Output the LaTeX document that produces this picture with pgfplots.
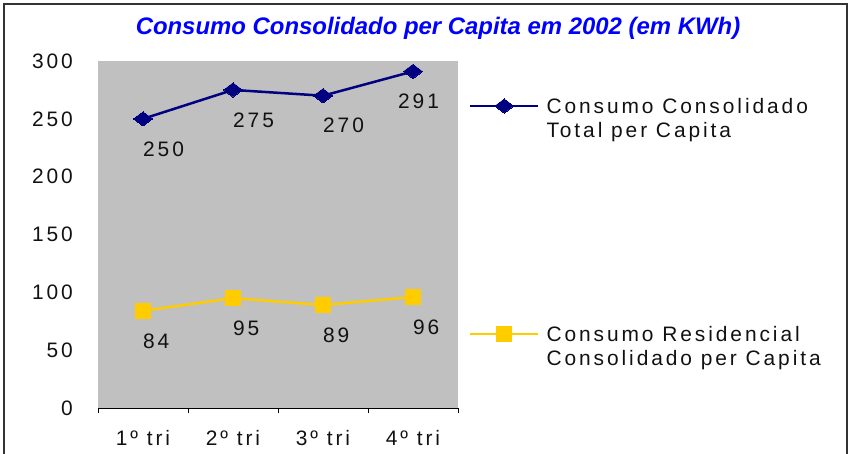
\documentclass[border=0pt]{standalone}
\usepackage{fontspec}
\usepackage{pgfplots}
\usepackage{pgfplotstable}
\pgfplotsset{compat=1.18}
\setmainfont{Liberation Sans}[LetterSpace=14]
\newfontfamily\titlefont{Liberation Sans}
\definecolor{navyc}{HTML}{000080}
\definecolor{goldc}{HTML}{FFCC00}
\definecolor{bgc}{HTML}{C0C0C0}
\definecolor{titlec}{HTML}{0000FF}
\definecolor{txtc}{HTML}{111111}

\pgfplotstableread{
x y
1 250
2 275
3 270
4 291
}\totaldata
\pgfplotstableread{
x y
1 84
2 95
3 89
4 96
}\resdata

\begin{document}
\begin{tikzpicture}
\useasboundingbox (0bp,0bp) rectangle (851bp,-454bp);
\draw[line width=1.8bp, black!80] (4bp,-460bp) -- (4bp,-4bp) -- (847bp,-4bp) -- (847bp,-460bp);
\node[font=\titlefont\fontsize{24}{28}\selectfont\bfseries\itshape, text=titlec] at (438bp,-28bp) {Consumo Consolidado per Capita em 2002 (em KWh)};
\begin{axis}[
  at={(98bp,-408bp)}, anchor=south west,
  scale only axis, width=360bp, height=347bp,
  xmin=0.5, xmax=4.5, ymin=0, ymax=300,
  enlargelimits=false,
  axis x line=bottom, axis y line=left,
  axis line style={-},
  y axis line style={draw=none},
  x axis line style={black, line width=0.8bp},
  axis background/.style={fill=bgc, draw=none},
  ytick={0,50,100,150,200,250,300},
  ytick style={draw=none},
  yticklabel style={anchor=east, inner sep=0pt, xshift=-20bp, text=txtc},
  xtick={0.5,1.5,2.5,3.5,4.5},
  xticklabels={},
  tick align=outside,
  xtick style={black, line width=0.8bp},
  major tick length=5bp,
  extra x ticks={1,2,3,4},
  extra x tick labels={1º tri,2º tri,3º tri,4º tri},
  extra x tick style={major tick length=0pt, xticklabel style={anchor=north, inner sep=0pt, yshift=-22bp, text=txtc}},
  tick label style={font=\fontsize{21}{25}\selectfont},
  /pgf/number format/assume math mode=true,
  every node near coord/.append style={font=\fontsize{21}{25}\selectfont, text=txtc, anchor=west, inner sep=0pt, yshift=-30bp},
  legend style={at={(1.0306,0.897)}, anchor=north west, draw=none, fill=none,
    inner sep=0pt, outer sep=0pt, row sep=210bp, column sep=7bp,
    nodes={inner sep=0pt, text=txtc}, cells={anchor=base west},
    font=\fontsize{21}{24}\selectfont},
  legend image code/.code={\draw[mark repeat=2,mark phase=2] plot coordinates {(0bp,7.5bp) (34bp,7.5bp) (68bp,7.5bp)};},
]
\addplot[navyc, line width=2.5bp, mark=diamond*, mark size=9.5bp, mark options={rotate=90, solid, fill=navyc, draw=navyc, line width=0pt}]
  table[x=x,y=y] {\totaldata};
\addlegendentry{\begin{tabular}[t]{@{}l@{}}Consumo Consolidado\\Total per Capita\end{tabular}}
\addplot[goldc, line width=2.5bp, mark=square*, mark size=7.5bp, mark options={solid, fill=goldc, draw=goldc, line width=0pt}, nodes near coords]
  table[x=x,y=y] {\resdata};
\addlegendentry{\begin{tabular}[t]{@{}l@{}}Consumo Residencial\\Consolidado per Capita\end{tabular}}
\addplot[draw=none, forget plot, nodes near coords] coordinates {(1,250) (2,275) (3,270)};
\addplot[draw=none, forget plot, nodes near coords, every node near coord/.append style={xshift=-15bp}] coordinates {(4,291)};
\end{axis}
\end{tikzpicture}
\end{document}
